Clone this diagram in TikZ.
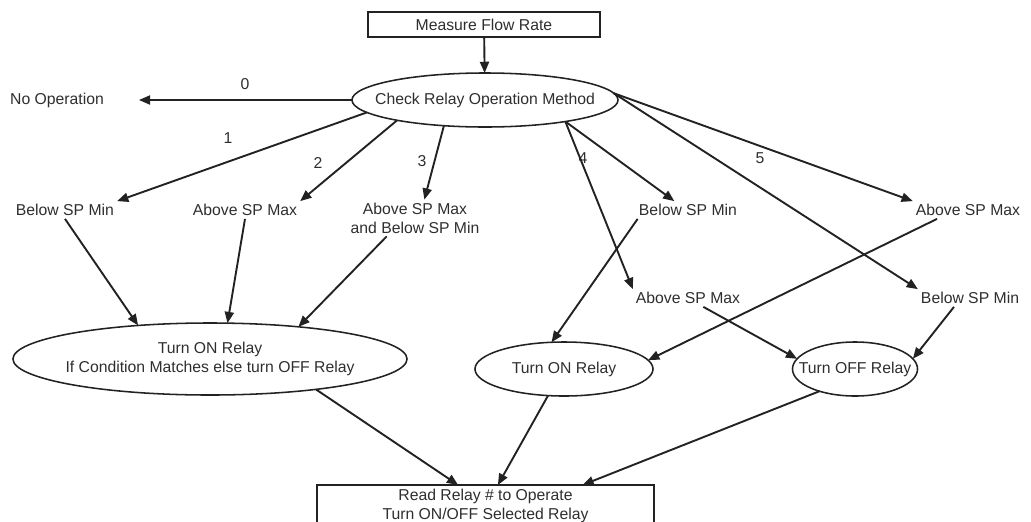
\documentclass[tikz,border=0pt]{standalone}
\usepackage{fontspec}
\setsansfont{Liberation Sans}
\usetikzlibrary{arrows.meta,shapes.geometric}
\definecolor{flwink}{HTML}{222222}
\definecolor{flwtext}{HTML}{2E2E2E}

\begin{document}
\begin{tikzpicture}[
  x=0.025cm, y=-0.025cm,
  font=\sffamily\fontsize{11.2}{13.5}\selectfont,
  box/.style={draw=flwink, line width=1.1pt, rectangle, align=center,
              text=flwtext, outer sep=0pt},
  oval/.style={draw=flwink, line width=1.1pt, ellipse, align=center,
               text=flwtext, outer sep=0pt, minimum height=1.35cm},
  lvl/.style={text=flwtext, align=center, inner sep=2pt},
  num/.style={text=flwtext, inner sep=1pt},
  arr/.style={-{Triangle[length=8pt,width=6.5pt]}, draw=flwink, line width=1.35pt},
]
\useasboundingbox (0,0) rectangle (1031,521);
\clip (0,0) rectangle (1031,521);

% ---------------- top -------------------------------------------------
\node[box, minimum width=5.8cm, minimum height=0.625cm] (measure) at (484,24.5)
  {Measure Flow Rate};
\node[oval, minimum width=6.65cm, inner xsep=-14pt] (check) at (485,100)
  {Check Relay Operation Method};
\node[lvl] (noop) at (57,100) {No Operation};

% ---------------- conditions ------------------------------------------
\node[lvl] (blw1)  at (65,210)  {Below SP Min};
\node[lvl] (abv2)  at (245,210) {Above SP Max};
\node[lvl] (both3) at (415,218) {Above SP Max\\and Below SP Min};
\node[lvl] (blw4)  at (688,210) {Below SP Min};
\node[lvl] (abv4)  at (688,298) {Above SP Max};
\node[lvl] (abv5)  at (968,210) {Above SP Max};
\node[lvl] (blw5)  at (970,298) {Below SP Min};

\foreach \n/\x/\y in {0/245/84, 1/228/138, 2/318/163, 3/422/161, 4/583/158, 5/760/158}
  \node[num] (lab\n) at (\x,\y) {\n};

% ---------------- actions ---------------------------------------------
\node[oval, minimum width=9.85cm, minimum height=1.8cm, inner xsep=-8pt] (either)
  at (210,359) {Turn ON Relay\\If Condition Matches else turn OFF Relay};
\node[oval, minimum width=4.45cm] (relon) at (564,369) {Turn ON Relay};
\node[oval, minimum width=3.125cm, inner xsep=-12pt] (reloff) at (855,369)
  {Turn OFF Relay};
\node[box, anchor=north, minimum width=8.425cm, minimum height=1.03cm,
      inner ysep=2.5pt] (read) at (485.5,485)
  {Read Relay \# to Operate\\Turn ON/OFF Selected Relay};

% ---------------- connectors ------------------------------------------
\draw[arr] (measure) -- (check);
\draw[arr, shorten >=8mm] (check.west) -- (noop.east);
\draw[arr] (check.186) -- (blw1.north east);
\draw[arr] (check.193) -- (abv2.north east);
\draw[arr] (check.212) -- (both3.63);
\draw[arr] (check.345) -- (blw4.147);
\draw[arr] (check.345) -- (abv4.north west);
\draw[arr] (check.3) -- (abv5.north west);
\draw[arr] (check.3) -- (blw5.north west);

\draw[arr] (blw1.south) -- (either.155);
\draw[arr] (abv2.south) -- (either.64);
\draw[arr] (both3.213) -- (either.20);
\draw[arr] (blw4.190) -- (relon.115);
\draw[arr] (abv5.196) -- (relon.6);
\draw[arr] (abv4.330) -- (reloff.170);
\draw[arr] (blw5.209) -- (reloff.10);

\draw[arr] (either.344) -- (read.143);
\draw[arr] (relon.239) -- (read.59);
\draw[arr] (reloff.212) -- (read.12);

\end{tikzpicture}
\end{document}
